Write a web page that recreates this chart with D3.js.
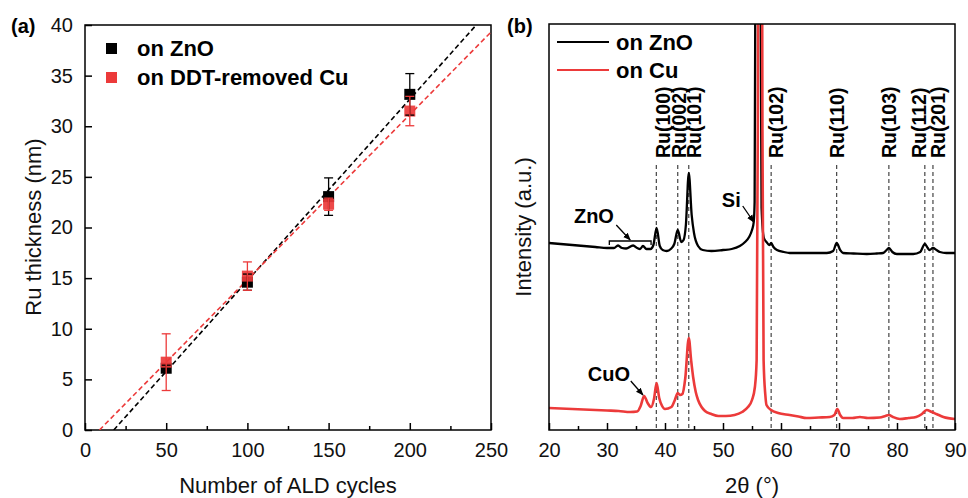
<!DOCTYPE html>
<html>
<head>
<meta charset="utf-8">
<script src="https://cdn.jsdelivr.net/npm/d3@7"></script>
<style>
  body { margin: 0; background: #fff; }
  text { font-family: "Liberation Sans", Arial, sans-serif; }
</style>
</head>
<body>
<div id="chart"></div>
<script>
// ---- panel (a) data: Ru thickness vs ALD cycles ----
const cycles = [50, 100, 150, 200];
const thickZnO = [6.1, 14.6, 23.05, 33.15];
const errZnO = [0.3, 0.8, 1.85, 2.05];
const thickCu = [6.7, 15.2, 22.3, 31.5];
const errCu = [2.8, 1.4, 0.6, 1.45];
const legendA = ["on ZnO", "on DDT-removed Cu"];

// ---- panel (b) data: XRD patterns [2theta, intensity a.u.] ----
const xrdZnO = [
  [20,187],[22,186],[24,185],[26,184],[28,183],[30,182],[31.2,182],[31.9,184.5],[32.6,182],
  [33.3,181.5],[34.5,184.5],[35.2,182],[35.7,181],[36.2,184],[36.8,181],[37.5,181],[38.0,185],
  [38.55,202],[39.1,184],[39.6,180],[40.3,179],[41.0,181],[41.6,186],[42.2,200],[42.8,188],
  [43.2,190],[43.6,205],[44.1,257],[44.6,215],[45.0,197],[45.7,184],[46.5,180],[48,179],
  [50,180],[51.5,181],[52.9,184],[53.8,188],[54.5,193],[55.0,200],[55.3,208],[55.45,228],
  [55.55,400],[55.7,900],[56.3,900],[56.5,400],[56.65,222],[57.05,192],[57.5,188],[58.0,185],
  [58.3,187],[58.7,183],[59.3,180],[60.5,178],[61.5,177],[63,177],[64.5,177],[66,177],
  [67.9,177],[69.0,179],[69.6,187],[70.2,180],[70.7,177],[72.5,176.5],[74.8,176],[76.5,176.5],
  [77.6,177],[78.2,180],[78.6,182],[79.2,178],[79.95,176],[81.5,176],[82.8,176],[84.0,178],
  [84.8,186],[85.3,182],[85.6,180],[86.2,182],[86.8,180],[87.4,178],[88.5,177],[90,177]
];
const xrdCu = [
  [20,22],[22,21.5],[24,21],[26,20.5],[28,20],[30,19.5],[32,19],[34,18],[35.2,18.5],[35.8,24],
  [36.4,34],[37.0,27],[37.6,23],[38.1,31],[38.55,47],[39.0,32],[39.5,24],[40.0,21],[41.1,23],
  [41.7,30],[42.2,37],[42.6,35],[43.0,36],[43.5,52],[44.1,92],[44.5,70],[44.85,53],[45.3,38],
  [45.7,30],[46.3,23],[46.9,19],[48,16],[49.2,14],[50.5,14],[52,15],[53.3,18],[54.3,23],
  [55.0,30],[55.5,43],[55.8,70],[56.0,300],[56.2,800],[56.6,800],[56.8,300],[57.0,70],
  [57.3,35],[57.5,25],[58.3,20],[59.5,17],[61.5,15],[63,13.5],[64.4,12],[66.5,12.5],[68.4,13],
  [69.2,15],[69.7,21],[70.2,15],[70.7,12],[72.3,12],[73.6,13],[75,12],[77,12.5],[78,14],
  [78.6,15],[79.3,13],[80.5,11],[82,12],[83.3,13],[84.3,16],[85.1,20],[86,18],[86.8,16],
  [88,13],[90,11]
];
const ruPeaks = [38.5, 42.2, 44.1, 58.3, 69.6, 78.6, 84.8, 86.2];
const ruLabels = ["Ru(100)", "Ru(002)", "Ru(101)", "Ru(102)", "Ru(110)", "Ru(103)", "Ru(112)", "Ru(201)"];
const ruLabelShift = [7, 1, 5, 5, 0, 0, -6, 5];
const legendB = ["on ZnO", "on Cu"];

const red = "#ec3a3a";
const W = 968, H = 498;

const svg = d3.select("#chart").append("svg")
  .attr("width", W).attr("height", H);

// ================= panel (a) =================
const xA = d3.scaleLinear().domain([0, 250]).range([85, 491]);
const yA = d3.scaleLinear().domain([0, 40]).range([430, 25]);

const gA = svg.append("g");

gA.append("clipPath").attr("id", "clipA").append("rect")
  .attr("x", 85).attr("y", 25).attr("width", 406).attr("height", 405);

// x axis with inward ticks
gA.append("g")
  .attr("transform", "translate(0,430)")
  .call(d3.axisBottom(xA).tickValues(d3.range(0, 251, 50)).tickSizeInner(-7).tickSizeOuter(0).tickPadding(13));
gA.append("g")
  .attr("transform", "translate(0,430)")
  .call(d3.axisBottom(xA).tickValues(d3.range(25, 250, 50)).tickSizeInner(-4).tickSizeOuter(0).tickFormat(""));
gA.append("g")
  .attr("transform", "translate(85,0)")
  .call(d3.axisLeft(yA).tickValues(d3.range(0, 41, 5)).tickSizeInner(-7).tickSizeOuter(0).tickPadding(12));

gA.selectAll(".domain").remove();
gA.selectAll(".tick line").attr("stroke", "#000").attr("stroke-width", 1.5);
gA.selectAll(".tick text").attr("font-size", 20).attr("fill", "#111")
  .attr("font-family", "Liberation Sans, Arial, sans-serif");

gA.append("rect")
  .attr("x", 85).attr("y", 25).attr("width", 406).attr("height", 405)
  .attr("fill", "none").attr("stroke", "#000").attr("stroke-width", 1.5);

// linear fits
function linFit(xs, ys) {
  const mx = d3.mean(xs), my = d3.mean(ys);
  const sxy = d3.sum(xs, (x, i) => (x - mx) * (ys[i] - my));
  const sxx = d3.sum(xs, x => (x - mx) * (x - mx));
  const m = sxy / sxx;
  return { m: m, b: my - m * mx };
}
[[thickZnO, "#000"], [thickCu, red]].forEach(([ys, col]) => {
  const f = linFit(cycles, ys);
  const x0 = -f.b / f.m;
  gA.append("line")
    .attr("clip-path", "url(#clipA)")
    .attr("x1", xA(x0)).attr("y1", yA(0))
    .attr("x2", xA(250)).attr("y2", yA(f.m * 250 + f.b))
    .attr("stroke", col).attr("stroke-width", 1.6)
    .attr("stroke-dasharray", "5,3");
});

// squares
const sq = 11;
[[thickZnO, "#000", 1], [thickCu, red, 0.92]].forEach(([ys, col, op]) => {
  gA.selectAll(null).data(cycles).enter().append("rect")
    .attr("x", d => xA(d) - sq / 2)
    .attr("y", (d, i) => yA(ys[i]) - sq / 2)
    .attr("width", sq).attr("height", sq)
    .attr("fill", col).attr("opacity", op);
});

// error bars
[[thickZnO, errZnO, "#000"], [thickCu, errCu, red]].forEach(([ys, es, col]) => {
  cycles.forEach((c, i) => {
    const x = xA(c), y1 = yA(ys[i] - es[i]), y2 = yA(ys[i] + es[i]);
    gA.append("line").attr("x1", x).attr("x2", x).attr("y1", y1).attr("y2", y2)
      .attr("stroke", col).attr("stroke-width", 1.3);
    [y1, y2].forEach(y => {
      gA.append("line").attr("x1", x - 4.5).attr("x2", x + 4.5).attr("y1", y).attr("y2", y)
        .attr("stroke", col).attr("stroke-width", 1.3);
    });
  });
});

// legend (a)
legendA.forEach((t, i) => {
  gA.append("rect").attr("x", 106).attr("y", 43 + i * 29).attr("width", 11).attr("height", 11)
    .attr("fill", i === 0 ? "#000" : red);
  gA.append("text").attr("x", 137).attr("y", 56 + i * 28.5)
    .attr("font-size", 22).attr("font-weight", "bold").text(t);
});

// axis titles (a)
gA.append("text").attr("x", 288).attr("y", 493).attr("text-anchor", "middle")
  .attr("font-size", 22).attr("fill", "#111").text("Number of ALD cycles");
gA.append("text").attr("transform", "translate(41,227) rotate(-90)").attr("text-anchor", "middle")
  .attr("font-size", 22).attr("fill", "#111").text("Ru thickness (nm)");
svg.append("text").attr("x", 11).attr("y", 33).attr("font-size", 20).attr("font-weight", "bold").text("(a)");

// ================= panel (b) =================
const xB = d3.scaleLinear().domain([20, 90]).range([549, 955]);
const yB = d3.scaleLinear().domain([0, 406]).range([430, 24]);

const gB = svg.append("g");
gB.append("clipPath").attr("id", "clipB").append("rect")
  .attr("x", 549).attr("y", 24).attr("width", 406).attr("height", 406);

gB.append("g")
  .attr("transform", "translate(0,430)")
  .call(d3.axisBottom(xB).tickValues(d3.range(20, 91, 10)).tickSizeInner(-7).tickSizeOuter(0).tickPadding(13));
gB.append("g")
  .attr("transform", "translate(0,430)")
  .call(d3.axisBottom(xB).tickValues(d3.range(25, 90, 10)).tickSizeInner(-4).tickSizeOuter(0).tickFormat(""));
gB.selectAll(".domain").remove();
gB.selectAll(".tick line").attr("stroke", "#000").attr("stroke-width", 1.5);
gB.selectAll(".tick text").attr("font-size", 20).attr("fill", "#111")
  .attr("font-family", "Liberation Sans, Arial, sans-serif");

// Ru reference lines and labels
gB.selectAll(".ref").data(ruPeaks).enter().append("line")
  .attr("x1", d => xB(d)).attr("x2", d => xB(d))
  .attr("y1", 165).attr("y2", 430)
  .attr("stroke", "#333").attr("stroke-width", 1.1).attr("stroke-dasharray", "4,3");
gB.selectAll(".rul").data(ruPeaks).enter().append("text")
  .attr("transform", (d, i) => `translate(${xB(d) + ruLabelShift[i]},158) rotate(-90)`)
  .attr("dy", "0.36em")
  .attr("font-size", 19.5).attr("font-weight", "bold")
  .text((d, i) => ruLabels[i]);

// XRD curves
const lineB = d3.line().x(d => xB(d[0])).y(d => yB(d[1])).curve(d3.curveMonotoneX);
gB.append("path").datum(xrdZnO).attr("clip-path", "url(#clipB)")
  .attr("d", lineB).attr("fill", "none").attr("stroke", "#000").attr("stroke-width", 2.3);
gB.append("path").datum(xrdCu).attr("clip-path", "url(#clipB)")
  .attr("d", lineB).attr("fill", "none").attr("stroke", red).attr("stroke-width", 2.6);

gB.append("rect")
  .attr("x", 549).attr("y", 24).attr("width", 406).attr("height", 406)
  .attr("fill", "none").attr("stroke", "#000").attr("stroke-width", 1.5);

// annotations
const defs = svg.append("defs");
defs.append("marker").attr("id", "arrow").attr("viewBox", "0 0 10 10")
  .attr("refX", 9).attr("refY", 5).attr("markerWidth", 6).attr("markerHeight", 6)
  .attr("orient", "auto")
  .append("path").attr("d", "M0,1 L10,5 L0,9 z").attr("fill", "#000");

const bracket = [30.4, 37.6];
const bY = yB(189);
gB.append("path")
  .attr("d", `M${xB(bracket[0])},${bY + 4} V${bY} H${xB(bracket[1])} V${bY + 4}`)
  .attr("fill", "none").attr("stroke", "#000").attr("stroke-width", 1.3);
gB.append("text").attr("x", xB(24.3)).attr("y", yB(207)).attr("font-size", 20).attr("font-weight", "bold").text("ZnO");
gB.append("line").attr("x1", xB(31.6)).attr("y1", yB(205)).attr("x2", xB(34.0)).attr("y2", bY - 1)
  .attr("stroke", "#000").attr("stroke-width", 1.3).attr("marker-end", "url(#arrow)");

gB.append("text").attr("x", xB(49.8)).attr("y", yB(223)).attr("font-size", 20).attr("font-weight", "bold").text("Si");
gB.append("line").attr("x1", xB(53.4)).attr("y1", yB(224)).attr("x2", xB(55.3)).attr("y2", yB(208))
  .attr("stroke", "#000").attr("stroke-width", 1.3).attr("marker-end", "url(#arrow)");

gB.append("text").attr("x", xB(26.7)).attr("y", yB(49)).attr("font-size", 20).attr("font-weight", "bold").text("CuO");
gB.append("line").attr("x1", xB(34.1)).attr("y1", yB(49)).attr("x2", xB(36.2)).attr("y2", yB(35))
  .attr("stroke", "#000").attr("stroke-width", 1.3).attr("marker-end", "url(#arrow)");

// legend (b)
legendB.forEach((t, i) => {
  gB.append("line").attr("x1", 557).attr("x2", 609).attr("y1", 42 + i * 28).attr("y2", 42 + i * 28)
    .attr("stroke", i === 0 ? "#000" : red).attr("stroke-width", 2);
  gB.append("text").attr("x", 616).attr("y", 50 + i * 28)
    .attr("font-size", 22).attr("font-weight", "bold").text(t);
});

// axis titles (b)
gB.append("text").attr("x", 752).attr("y", 493).attr("text-anchor", "middle")
  .attr("font-size", 22).attr("fill", "#111").text("2θ (°)");
gB.append("text").attr("transform", "translate(531,227) rotate(-90)").attr("text-anchor", "middle")
  .attr("font-size", 22).attr("fill", "#111").text("Intensity (a.u.)");
svg.append("text").attr("x", 507).attr("y", 33).attr("font-size", 20).attr("font-weight", "bold").text("(b)");
</script>
</body>
</html>
